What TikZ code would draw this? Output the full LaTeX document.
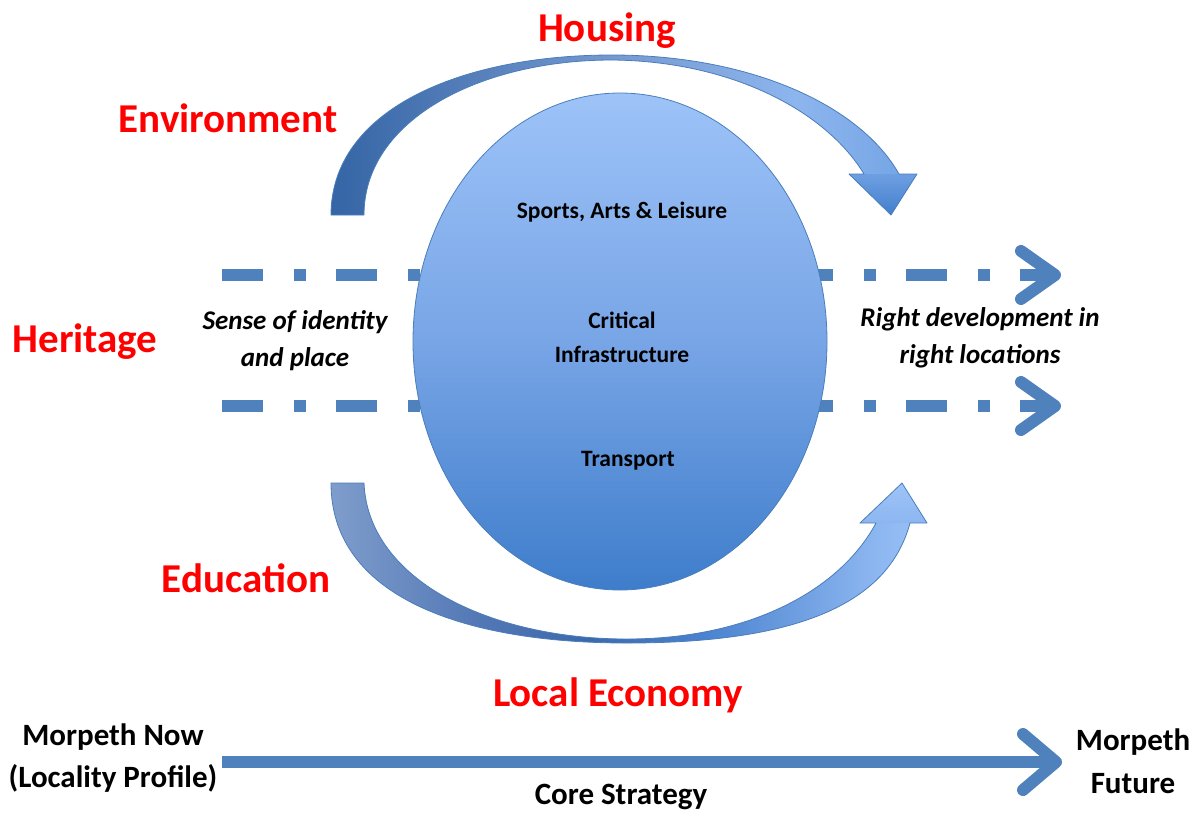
\documentclass[tikz,border=0pt]{standalone}
\usepackage{fontspec}
\setmainfont{Carlito}
\usetikzlibrary{shapes.geometric}
\definecolor{lineblue}{HTML}{4F81BD}
\definecolor{edgeblue}{HTML}{4A7EBB}
\definecolor{labred}{HTML}{FF0000}
\definecolor{elltop}{HTML}{9DC3F8}
\definecolor{ellmid}{HTML}{78A5E6}
\definecolor{ellbot}{HTML}{3E7DCB}
\definecolor{tA}{HTML}{3565A5}
\definecolor{tB}{HTML}{7699D0}
\definecolor{tC}{HTML}{8DB5EE}
\definecolor{tD}{HTML}{76A6E6}
\definecolor{thTop}{HTML}{6E9FE2}
\definecolor{thBot}{HTML}{437FCC}
\definecolor{bA}{HTML}{7F9DCC}
\definecolor{bB}{HTML}{5277B5}
\definecolor{bC}{HTML}{3D69AB}
\definecolor{bD}{HTML}{4A82CE}
\definecolor{bE}{HTML}{8CB6F0}
\definecolor{bF}{HTML}{96BEF5}
\definecolor{bhTop}{HTML}{9EC4F8}
\definecolor{bhBot}{HTML}{8DB6F0}
\pgfdeclarehorizontalshading{topshaft}{100bp}{color(0bp)=(tA); color(25bp)=(tA); color(50bp)=(tB); color(66bp)=(tC); color(75bp)=(tD); color(100bp)=(tD)}
\pgfdeclarehorizontalshading{botshaft}{100bp}{color(0bp)=(bA); color(25bp)=(bA); color(38bp)=(bB); color(47bp)=(bC); color(57bp)=(bD); color(72bp)=(bE); color(75bp)=(bF); color(100bp)=(bF)}
\begin{document}
\begin{tikzpicture}[x=1pt,y=-1pt,
  redlab/.style={text=labred, font=\fontsize{41}{48}\selectfont\bfseries, inner sep=0pt},
  innerlab/.style={text=black, font=\fontsize{23.5}{34}\selectfont\bfseries, inner sep=0pt, align=center},
  itlab/.style={text=black, font=\fontsize{27}{37}\selectfont\bfseries\itshape, inner sep=0pt, align=center},
  botlab/.style={text=black, font=\fontsize{31}{42.5}\selectfont\bfseries, inner sep=0pt, align=center},
  dashdotline/.style={draw=lineblue, line width=12pt, dash pattern=on 41pt off 31pt on 12pt off 30pt},
  chevron/.style={draw=lineblue, line width=12pt, line cap=round, line join=round},
  arrowedge/.style={draw=edgeblue, line width=0.8pt, line join=round}]
\useasboundingbox (0,0) rectangle (1198,815);

% dash-dot lines
\coordinate (d1s) at (222,275); \coordinate (d1e) at (1055,275);
\coordinate (d2s) at (222,406); \coordinate (d2e) at (1055,406);
\draw[dashdotline] (d1s) -- (d1e);
\draw[dashdotline] (d2s) -- (d2e);
\draw[chevron] (1021,251) -- (d1e) -- (1021,299);
\draw[chevron] (1021,382) -- (d2e) -- (1021,430);

% top curved arrow
\shade[shading=topshaft] (331,215) .. controls (331,110) and (460,55) .. (612,55)
  .. controls (750,55) and (860,105) .. (899,174) -- (864,174)
  .. controls (825,110) and (730,61) .. (612,60)
  .. controls (480,60) and (364,120) .. (364,215) -- cycle;
\shade[top color=thTop, bottom color=thBot] (849,174) -- (917,174) -- (891,215) -- cycle;
\draw[arrowedge] (331,215) .. controls (331,110) and (460,55) .. (612,55)
  .. controls (750,55) and (860,105) .. (899,174) -- (917,174) -- (891,215) -- (849,174) -- (864,174)
  .. controls (825,110) and (730,61) .. (612,60)
  .. controls (480,60) and (364,120) .. (364,215) -- cycle;

% bottom curved arrow
\shade[shading=botshaft] (331,483) .. controls (331,595) and (460,643) .. (627,643)
  .. controls (795,643) and (888,605) .. (910,523) -- (876,523)
  .. controls (840,590) and (750,639) .. (627,639)
  .. controls (490,639) and (368,580) .. (364,483) -- cycle;
\shade[top color=bhTop, bottom color=bhBot] (860,523) -- (902,483) -- (927,523) -- cycle;
\draw[arrowedge] (331,483) .. controls (331,595) and (460,643) .. (627,643)
  .. controls (795,643) and (888,605) .. (910,523) -- (927,523) -- (902,483) -- (860,523) -- (876,523)
  .. controls (840,590) and (750,639) .. (627,639)
  .. controls (490,639) and (368,580) .. (364,483) -- cycle;

% central ellipse
\node[ellipse, draw=edgeblue, line width=0.8pt, top color=elltop, bottom color=ellbot, middle color=ellmid,
      minimum width=414pt, minimum height=497pt, inner sep=0pt] (core) at (620,341.5) {};

% labels
\node[redlab] (housing) at (607,31) {Housing};
\node[redlab] (environment) at (228,118) {Environment};
\node[redlab] (heritage) at (85,342) {Heritage};
\node[redlab] (education) at (246,578) {Education};
\node[redlab] (economy) at (618,695) {Local Economy};

\node[innerlab] (sports) at (622,212) {Sports, Arts \& Leisure};
\node[innerlab] (critical) at (622,337) {Critical\\Infrastructure};
\node[innerlab] (transport) at (628,461) {Transport};

\node[itlab] (identity) at (295,341) {Sense of identity\\and place};
\node[itlab] (rightdev) at (980,338) {Right development in\\right locations};

\node[botlab] (now) at (113,758) {Morpeth Now\\(Locality Profile)};
\node[botlab] (future) at (1133,761) {Morpeth\\Future};
\node[botlab] (core strategy) at (621,797) {Core Strategy};

% bottom timeline arrow
\coordinate (ts) at (222,762);
\coordinate (te) at (1056,762);
\draw[draw=lineblue, line width=12pt] (ts) -- (te);
\draw[chevron] (1023,734) -- (te) -- (1023,790);
\end{tikzpicture}
\end{document}
